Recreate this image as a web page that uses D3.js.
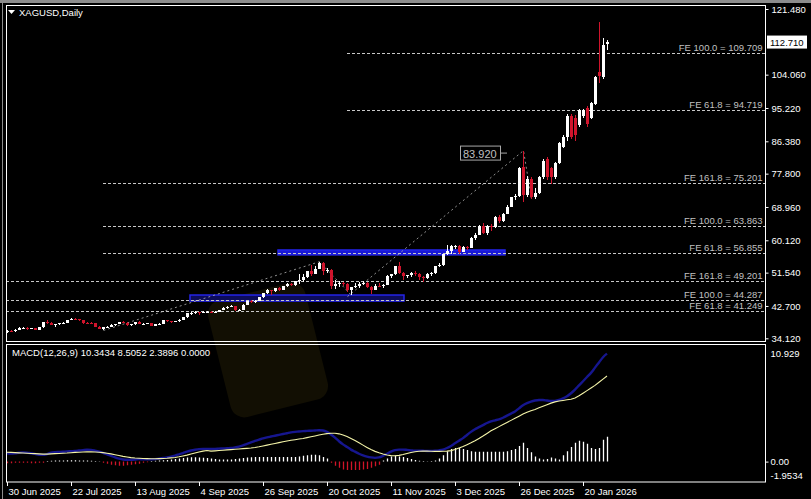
<!DOCTYPE html>
<html><head><meta charset="utf-8">
<script src="https://cdn.jsdelivr.net/npm/d3@7"></script>
<style>
html,body{margin:0;padding:0;background:#000;overflow:hidden;}
svg{display:block;font-family:"Liberation Sans",Arial,sans-serif;}
</style></head><body>
<svg id="c" width="811" height="499"></svg>
<script>
// ---------- data ----------
const dateLabels = ["30 Jun 2025","22 Jul 2025","13 Aug 2025","4 Sep 2025","26 Sep 2025","20 Oct 2025","11 Nov 2025","3 Dec 2025","26 Dec 2025","20 Jan 2026"];
const dateTickIndex = [0,16,32,48,64,80,96,112,128,144];
const priceTicks = [121.48,104.06,95.22,86.38,77.80,68.96,60.12,51.54,42.70,34.12];
const macdTicks = [10.929,0,-1.9534];
const macdTickLabels = ["10.929","0.00","-1.9534"];

const opens = [35.9,36.05,35.95,36.45,36.85,36.95,36.7,36.75,36.4,37.0,38.35,38.15,37.7,37.9,38.15,38.2,39.05,39.3,39.25,38.95,38.2,38.15,38.1,37.2,36.7,37.0,37.25,37.7,37.9,38.35,38.3,37.55,37.8,38.45,37.9,38.0,38.1,37.45,37.9,38.0,38.95,38.6,38.55,38.6,39.1,39.7,40.7,40.8,41.15,40.75,41.0,41.2,40.95,41.15,41.6,42.2,42.45,42.6,41.65,41.7,43.05,43.95,43.9,44.0,45.0,46.05,46.85,46.6,47.35,47.05,47.95,48.6,48.15,49.3,49.65,50.25,51.9,51.3,52.6,54.05,51.85,52.3,47.9,48.6,48.9,48.6,46.85,47.6,48.0,48.6,48.7,47.85,47.05,48.1,47.95,48.35,50.65,51.15,53.2,51.4,50.6,50.8,51.5,51.1,50.3,50.0,51.2,51.4,53.3,53.6,56.4,57.3,58.5,58.7,57.0,58.3,58.2,60.6,61.6,64.0,62.0,63.9,63.7,66.4,65.3,67.1,69.0,71.5,71.8,79.6,72.2,76.3,71.6,72.7,76.8,81.6,79.3,76.8,80.6,85.0,87.5,93.2,92.6,90.7,93.0,95.2,92.6,96.3,104.8,103.4,112.2];
const highs = [36.3,36.3,36.6,37.05,37.1,37.0,36.9,36.9,37.2,38.4,39.1,38.4,38.0,38.2,38.4,39.1,39.5,39.5,39.3,39.0,38.4,38.4,38.3,37.4,37.2,37.4,37.8,38.0,38.4,38.6,38.4,37.9,38.5,38.6,38.1,38.2,38.15,38.0,38.1,39.0,39.0,38.8,38.8,39.2,39.8,40.8,41.0,41.4,41.2,41.3,41.4,41.3,41.3,41.7,42.3,42.6,42.9,42.7,41.9,43.1,44.0,44.4,44.3,45.1,46.1,47.2,47.0,47.4,47.6,48.1,48.7,48.8,49.4,51.2,51.3,52.1,53.6,53.2,54.45,54.3,52.9,52.4,49.5,49.3,49.1,48.7,47.8,48.7,49.1,49.3,49.0,48.1,48.4,48.8,48.6,50.8,51.3,53.3,54.4,51.6,51.0,51.8,51.9,51.5,50.7,51.4,51.8,53.4,54.0,56.5,58.8,58.8,58.9,58.8,58.6,58.5,61.0,62.0,64.3,64.6,64.2,64.5,66.6,66.9,67.4,69.5,71.7,72.3,79.6,83.92,77.2,76.8,74.0,77.2,81.6,82.3,79.5,80.9,86.1,88.0,93.6,93.6,93.3,95.0,95.0,95.7,96.9,103.7,118.0,113.8,113.3];
const lows = [35.6,35.7,35.9,36.3,36.7,36.4,36.5,36.2,36.3,36.9,38.0,37.6,37.2,37.7,37.9,38.1,38.9,38.9,38.8,38.0,37.9,37.9,37.0,36.6,36.2,36.9,37.1,37.5,37.8,38.1,37.4,37.4,37.7,37.8,37.7,37.9,37.3,37.4,37.8,37.9,38.4,38.3,38.4,38.5,39.0,39.6,40.3,40.6,40.4,40.7,40.8,40.8,40.8,41.0,41.5,42.0,42.3,41.4,41.4,41.6,42.9,43.4,43.6,43.9,44.9,45.9,45.6,46.4,46.7,47.0,47.8,47.9,48.1,48.5,49.1,50.1,50.7,51.2,52.5,50.9,51.4,47.1,47.1,47.8,47.9,46.5,45.5,47.4,47.5,48.2,47.5,45.9,46.9,47.8,47.5,48.2,50.1,50.9,51.2,49.6,50.1,50.3,50.7,49.6,49.1,49.8,50.6,51.2,53.0,53.4,56.3,56.5,57.8,56.5,56.9,57.6,58.0,60.1,61.4,61.8,61.6,62.6,63.5,64.7,65.0,67.0,68.9,70.8,71.6,70.4,71.5,71.0,71.2,72.5,76.5,76.2,75.0,76.5,80.3,84.5,86.5,87.0,86.4,90.2,92.5,90.3,92.2,96.0,101.9,103.0,110.6];
const closes = [36.05,35.95,36.45,36.85,36.95,36.7,36.75,36.4,37.0,38.35,38.15,37.7,37.9,38.15,38.2,39.05,39.3,39.25,38.95,38.2,38.15,38.1,37.2,36.7,37.0,37.25,37.7,37.9,38.35,38.3,37.55,37.8,38.45,37.95,38.0,38.1,37.45,37.9,38.0,38.95,38.6,38.55,38.6,39.1,39.7,40.7,40.8,41.15,40.75,41.0,41.2,40.95,41.15,41.6,42.2,42.45,42.6,41.65,41.7,43.05,43.95,43.9,44.0,45.0,46.05,46.85,46.6,47.35,47.05,47.95,48.6,48.15,49.3,49.65,50.25,51.9,51.3,52.6,54.05,51.85,52.3,47.9,48.6,48.9,48.6,46.85,47.6,48.0,48.6,48.7,47.85,47.05,48.1,47.95,48.35,50.65,51.15,53.2,51.4,50.6,50.8,51.5,51.1,50.3,50.0,51.2,51.4,53.3,53.6,56.4,57.3,58.6,58.7,57.0,58.3,58.2,60.6,61.6,64.0,62.0,63.9,63.7,66.4,65.3,67.1,69.0,71.5,71.8,79.3,72.2,76.3,71.6,72.7,76.8,81.2,77.0,76.8,80.6,85.9,87.5,93.2,87.4,88.0,94.7,94.6,90.9,96.5,103.4,103.8,111.9,112.71];

const macdMain = [0.80,0.78,0.80,0.85,0.88,0.86,0.80,0.74,0.66,0.64,0.72,0.85,0.90,0.92,0.94,0.98,1.00,1.02,1.06,1.10,1.14,1.12,1.05,0.96,0.84,0.70,0.56,0.40,0.28,0.20,0.18,0.18,0.20,0.24,0.22,0.22,0.22,0.24,0.28,0.34,0.40,0.48,0.58,0.70,0.82,0.95,1.06,1.14,1.20,1.22,1.22,1.22,1.22,1.24,1.26,1.28,1.30,1.36,1.44,1.56,1.70,1.84,1.98,2.10,2.22,2.32,2.40,2.48,2.56,2.64,2.72,2.80,2.85,2.88,2.92,2.94,2.96,2.98,3.00,2.98,2.85,2.60,2.30,1.95,1.65,1.40,1.15,0.95,0.75,0.60,0.48,0.40,0.36,0.40,0.55,0.75,0.95,1.10,1.15,1.15,1.12,1.08,1.05,1.05,1.04,1.02,1.02,1.04,1.08,1.15,1.30,1.50,1.75,2.00,2.25,2.55,2.85,3.10,3.30,3.50,3.70,3.85,3.95,4.05,4.20,4.40,4.60,4.80,5.10,5.40,5.60,5.75,5.85,5.90,5.90,5.85,5.80,5.82,5.90,6.05,6.25,6.55,6.90,7.30,7.70,8.10,8.50,9.00,9.50,10.00,10.34];
const macdSignal = [0.90,0.88,0.86,0.84,0.82,0.80,0.78,0.76,0.74,0.72,0.72,0.74,0.76,0.78,0.80,0.82,0.85,0.88,0.90,0.92,0.93,0.93,0.92,0.90,0.86,0.80,0.74,0.66,0.58,0.50,0.44,0.38,0.34,0.32,0.30,0.29,0.28,0.28,0.29,0.30,0.32,0.36,0.40,0.46,0.54,0.62,0.72,0.82,0.92,1.00,1.06,1.00,1.03,1.06,1.09,1.12,1.15,1.18,1.21,1.24,1.27,1.30,1.35,1.42,1.50,1.58,1.66,1.74,1.82,1.90,1.97,2.04,2.10,2.16,2.22,2.30,2.38,2.46,2.54,2.62,2.68,2.72,2.72,2.66,2.55,2.40,2.22,2.02,1.80,1.58,1.36,1.15,0.98,0.84,0.72,0.63,0.57,0.56,0.60,0.68,0.78,0.88,0.95,0.99,1.00,1.00,0.99,0.98,0.98,0.99,1.00,1.05,1.15,1.30,1.45,1.62,1.80,2.00,2.22,2.45,2.70,2.95,3.15,3.35,3.55,3.75,3.95,4.15,4.35,4.55,4.72,4.87,5.00,5.15,5.30,5.45,5.60,5.72,5.80,5.86,5.92,5.98,6.10,6.30,6.55,6.80,7.05,7.30,7.60,7.90,8.20,8.51];
const macdHist = [-0.15,-0.15,-0.12,-0.1,-0.1,-0.12,-0.15,-0.15,-0.12,-0.1,0.05,0.08,0.1,0.1,0.1,0.12,0.12,0.12,0.1,0.1,0.1,0.08,0.06,0.04,-0.1,-0.2,-0.3,-0.35,-0.4,-0.4,-0.35,-0.3,-0.25,-0.2,-0.1,-0.05,0.05,0.08,0.1,0.12,0.15,0.2,0.25,0.3,0.35,0.4,0.42,0.42,0.4,0.38,0.35,0.3,0.25,0.2,0.2,0.2,0.2,0.25,0.3,0.35,0.4,0.42,0.45,0.45,0.45,0.45,0.45,0.45,0.45,0.45,0.45,0.45,0.45,0.5,0.55,0.6,0.65,0.65,0.6,0.45,0.3,-0.1,-0.4,-0.6,-0.75,-0.8,-0.8,-0.8,-0.8,-0.75,-0.7,-0.6,-0.45,-0.3,0.1,0.3,0.5,0.55,0.5,0.45,0.35,0.25,0.15,0.08,0.05,0.03,0.05,0.1,0.3,0.6,1.0,1.2,1.3,1.3,1.2,1.1,1.0,0.95,0.95,0.95,0.95,0.95,0.95,0.95,0.95,1.0,1.1,1.2,1.5,1.8,1.3,0.9,0.5,0.3,0.2,0.25,0.4,0.3,0.2,0.6,1.0,1.4,1.8,2.0,1.9,1.7,1.3,1.2,1.3,2.1,2.39];

// Fibonacci expansion levels
const feLabels = ["FE 100.0 = 109.709","FE 61.8 = 94.719","FE 161.8 = 75.201","FE 100.0 = 63.863","FE 61.8 = 56.855","FE 161.8 = 49.201","FE 100.0 = 44.287","FE 61.8 = 41.249"];
const feValues = [109.709,94.719,75.201,63.863,56.855,49.201,44.287,41.249];
const feStartBar = [85,85,24,24,24,-1.5,-1.5,-1.5];
// FE trend lines (bar index, price)
const feTrend = [
  [[24,36.2],[78,54.45],[86,45.5]],
  [[85,45.2],[129,83.92],[131,71.0]]
];
// zones (bar start, bar end, price top, price bottom)
const zones = [[67.75,124.5,57.55,56.25],[45.75,99.25,45.6,44.0]];
const currentPrice = 112.71;
const peakLabel = "83.920";

// ---------- layout ----------
const svg = d3.select("#c");
const L = 6.5, R = 765.5, mainTop = 5.5, mainBot = 341.5, macdTop = 344.5, macdBot = 482;
const x = d3.scaleLinear().domain([0,150]).range([7,607]);
const y = d3.scaleLinear().domain([34.12,121.48]).range([338.3,9]);
const ym = d3.scaleLinear().domain([-1.9534,10.929]).range([482,347.5]);
const bull = "#ffffff", bear = "#d0142c";

svg.append("rect").attr("width",811).attr("height",499).attr("fill","#000");
svg.append("rect").attr("x",0).attr("y",0).attr("width",811).attr("height",3).attr("fill","#8c8c8c");
svg.append("line").attr("x1",2.5).attr("x2",2.5).attr("y1",3).attr("y2",499).attr("stroke","#8c8c8c");

// faint watermark
svg.append("rect").attr("x",218).attr("y",290).attr("width",100).attr("height",120).attr("rx",14)
  .attr("fill","#120f03").attr("transform","rotate(-14,268,350)");

const clipMain = svg.append("clipPath").attr("id","cm").append("rect")
  .attr("x",L+0.5).attr("y",mainTop+0.5).attr("width",R-L-1).attr("height",mainBot-mainTop-1);
const gMain = svg.append("g").attr("clip-path","url(#cm)");

// zones
gMain.selectAll("rect.zone").data(zones).join("rect").attr("class","zone")
  .attr("x",d=>x(d[0])).attr("width",d=>x(d[1])-x(d[0]))
  .attr("y",d=>y(d[2])).attr("height",d=>y(d[3])-y(d[2]))
  .attr("fill",(d,i)=>i===0?"#1a1ad8":"#0c0c5a")
  .attr("stroke","#2424e8").attr("stroke-width",1.5);

// FE level lines
feValues.forEach((v,k)=>{
  const yy = Math.round(y(v))+0.5;
  gMain.append("line").attr("x1",x(feStartBar[k])).attr("x2",R).attr("y1",yy).attr("y2",yy)
    .attr("stroke","#c8c8c8").attr("stroke-dasharray","3,2").attr("stroke-width",1);
  gMain.append("text").attr("x",R-3).attr("y",yy-2.5).attr("text-anchor","end")
    .attr("font-size",9.5).attr("fill","#c0c0c0").text(feLabels[k]);
});
feTrend.forEach(pts=>{
  gMain.append("path").attr("d",d3.line().x(p=>x(p[0])+0.5).y(p=>y(p[1]))(pts))
    .attr("fill","none").attr("stroke","#b4b4b4").attr("stroke-width",0.8).attr("stroke-dasharray","2,3");
});

// candles
const idx = d3.range(closes.length);
const cg = gMain.append("g").attr("shape-rendering","crispEdges");
cg.selectAll("line.w").data(idx).join("line").attr("class","w")
  .attr("x1",i=>Math.round(x(i))+0.5).attr("x2",i=>Math.round(x(i))+0.5)
  .attr("y1",i=>y(highs[i])).attr("y2",i=>y(lows[i]))
  .attr("stroke",i=>closes[i]>=opens[i]?bull:bear);
cg.selectAll("rect.b").data(idx).join("rect").attr("class","b")
  .attr("x",i=>Math.round(x(i))-1).attr("width",3)
  .attr("y",i=>y(Math.max(opens[i],closes[i])))
  .attr("height",i=>Math.max(1,Math.abs(y(opens[i])-y(closes[i]))))
  .attr("fill",i=>closes[i]>=opens[i]?bull:bear);

// peak label
const pk = feTrend[1][1];
gMain.append("rect").attr("x",460.5).attr("y",y(pk[1])-4.5).attr("width",40).attr("height",14)
  .attr("fill","#000").attr("stroke","#a8a8a8");
gMain.append("text").attr("x",463).attr("y",y(pk[1])+7).attr("font-size",11).attr("fill","#c0c0c0").text(peakLabel);
gMain.append("line").attr("x1",500.5).attr("x2",507).attr("y1",y(pk[1])+2.5).attr("y2",y(pk[1])+2.5).attr("stroke","#a8a8a8");

// frames
svg.append("rect").attr("x",L).attr("y",mainTop).attr("width",R-L).attr("height",mainBot-mainTop)
  .attr("fill","none").attr("stroke","#fff");
svg.append("rect").attr("x",L).attr("y",macdTop).attr("width",R-L).attr("height",macdBot-macdTop)
  .attr("fill","none").attr("stroke","#fff");

// title
svg.append("path").attr("d","M8,10 L15,10 L11.5,14 Z").attr("fill","#fff");
svg.append("text").attr("x",19).attr("y",16).attr("font-size",9.5).attr("fill","#fff").text("XAGUSD,Daily");

// price axis
const ay = svg.append("g").attr("transform",`translate(${R},0)`)
  .call(d3.axisRight(y).tickValues(priceTicks).tickFormat(d3.format(".3f")).tickSize(3).tickPadding(3));
ay.select(".domain").remove();
ay.selectAll("line").attr("stroke","#fff");
ay.selectAll("text").attr("fill","#fff").attr("font-size",9.5).attr("font-family","Liberation Sans, Arial");

svg.append("rect").attr("x",767).attr("y",y(currentPrice)-6.5).attr("width",40).attr("height",13).attr("fill","#fff");
svg.append("text").attr("x",770).attr("y",y(currentPrice)+3.5).attr("font-size",9.5).attr("fill","#000").text(d3.format(".3f")(currentPrice));

// MACD panel
const clipM = svg.append("clipPath").attr("id","cmacd").append("rect")
  .attr("x",L+0.5).attr("y",macdTop+0.5).attr("width",R-L-1).attr("height",macdBot-macdTop-1);
const gM = svg.append("g").attr("clip-path","url(#cmacd)");
gM.selectAll("line.h").data(idx).join("line").attr("class","h")
  .attr("x1",i=>Math.round(x(i))+0.5).attr("x2",i=>Math.round(x(i))+0.5)
  .attr("y1",ym(0)).attr("y2",i=>ym(macdHist[i]))
  .attr("stroke",i=>macdHist[i]>=0?"#ffffff":"#d01428").attr("stroke-width",1.3);
gM.append("path").attr("d",d3.line().x(i=>x(i)).y(i=>ym(macdMain[i])).curve(d3.curveMonotoneX)(idx))
  .attr("fill","none").attr("stroke","#1a1aa8").attr("stroke-width",2.4).attr("stroke-opacity",0.85);
gM.append("path").attr("d",d3.line().x(i=>x(i)).y(i=>ym(macdSignal[i]))(idx))
  .attr("fill","none").attr("stroke","#f4f4a8").attr("stroke-width",1.1);
svg.append("text").attr("x",12).attr("y",356).attr("font-size",9.5).attr("fill","#fff")
  .text("MACD(12,26,9) 10.3434 8.5052 2.3896 0.0000");

const am = svg.append("g").attr("transform",`translate(${R},0)`)
  .call(d3.axisRight(ym).tickValues(macdTicks).tickFormat((d,k)=>macdTickLabels[k]).tickSize(3).tickPadding(2));
am.select(".domain").remove();
am.selectAll("line").attr("stroke","#fff");
am.selectAll("text").attr("fill","#fff").attr("font-size",9.5).attr("font-family","Liberation Sans, Arial");
am.selectAll(".tick").filter(d=>d===10.929).select("text").attr("dy","0.95em");
am.selectAll(".tick").filter(d=>d===-1.9534).select("text").attr("dy","-0.35em");
am.selectAll(".tick").filter(d=>d!==0).select("line").remove();

// date axis
const ax = svg.append("g").attr("transform",`translate(0,${macdBot})`)
  .call(d3.axisBottom(x).tickValues(dateTickIndex).tickFormat((d,k)=>dateLabels[k]).tickSize(4));
ax.select(".domain").remove();
ax.selectAll("line").attr("stroke","#fff");
ax.selectAll("text").attr("fill","#fff").attr("font-size",9.5).attr("font-family","Liberation Sans, Arial")
  .attr("text-anchor","start").attr("x",1).attr("y",6);
</script>
</body></html>
